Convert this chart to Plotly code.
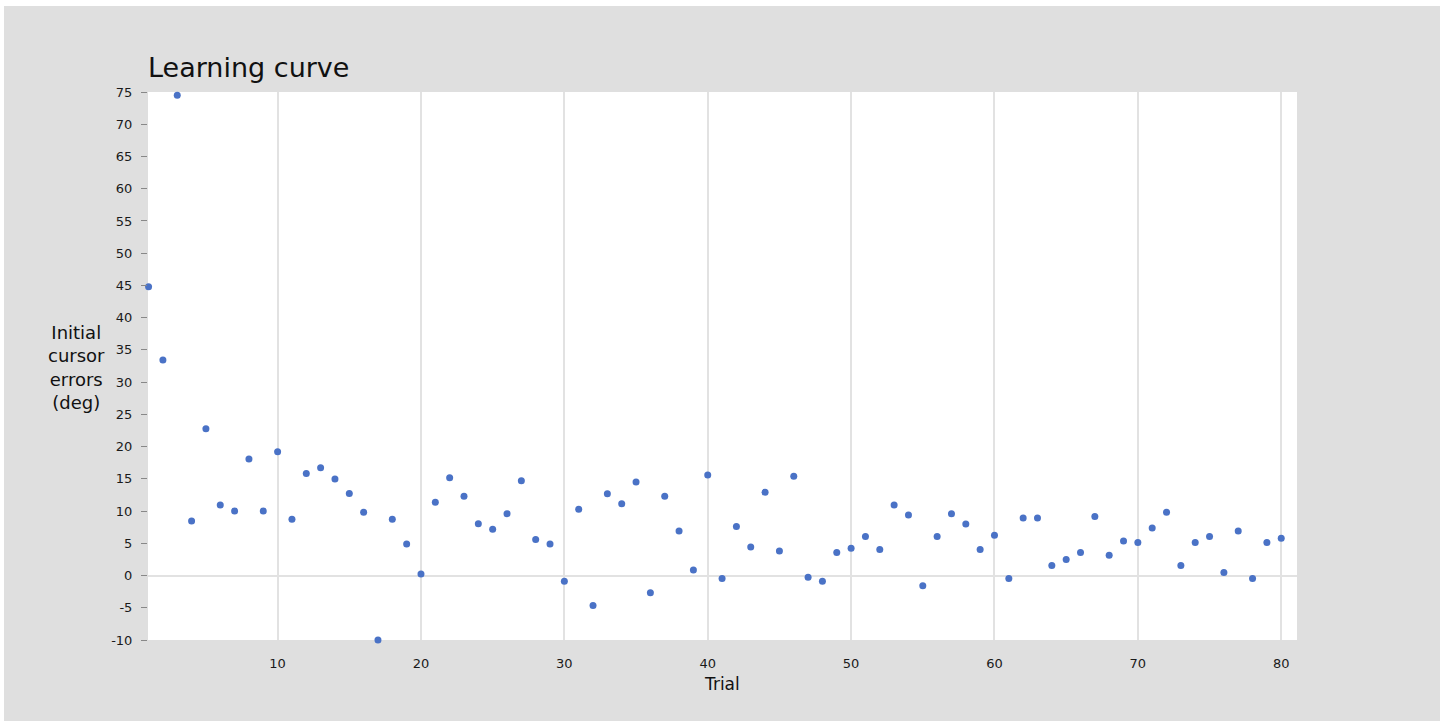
import plotly.graph_objects as go

trials = list(range(1, 81))
errors = [
    44.8, 33.45, 74.5, 8.46, 22.76, 10.94, 10.0, 18.06, 10.0, 19.2,
    8.72, 15.84, 16.72, 14.96, 12.74, 9.8, -10.0, 8.72, 4.9, 0.25,
    11.35, 15.18, 12.28, 8.05, 7.17, 9.6, 14.71, 5.57, 4.9, -0.88,
    10.27, -4.65, 12.7, 11.15, 14.5, -2.69, 12.28, 6.91, 0.87, 15.58,
    -0.46, 7.59, 4.43, 12.9, 3.81, 15.38, -0.26, -0.88, 3.56, 4.23,
    6.04, 4.03, 10.94, 9.39, -1.6, 6.04, 9.6, 7.99, 4.03, 6.24,
    -0.46, 8.92, 8.92, 1.55, 2.48, 3.56, 9.14, 3.14, 5.36, 5.11,
    7.37, 9.8, 1.55, 5.11, 6.04, 0.46, 6.91, -0.46, 5.11, 5.78,
]
y_tickvals = list(range(-10, 80, 5))
y_ticktext = [str(v) for v in y_tickvals]
x_tickvals = [10, 20, 30, 40, 50, 60, 70, 80]
x_ticktext = [str(v) for v in x_tickvals]

W, H = 1445, 721
L, R, T, B = 148, 1297, 92, 640
pw, ph = R - L, B - T

def px(x):
    return (x - L) / pw

def py(y):
    return (B - y) / ph

FONT = "DejaVu Sans"
GRAY = "#dfdfdf"

fig = go.Figure()
fig.add_trace(go.Scatter(
    x=trials, y=errors, mode="markers",
    marker=dict(size=7, color="#4a72c6", line=dict(width=0)),
    showlegend=False, cliponaxis=False,
))

fig.update_layout(
    width=W, height=H,
    paper_bgcolor=GRAY, plot_bgcolor="white",
    margin=dict(l=L, r=W - R, t=T, b=H - B, pad=0),
    font=dict(family=FONT, color="#222222"),
    title=dict(text="Learning curve", x=L / W, xanchor="left", xref="container",
               y=1 - 68 / H, yanchor="middle", yref="container",
               font=dict(size=27, family=FONT, color="#111111")),
    xaxis=dict(range=[0.96, 81.1], tickvals=x_tickvals, ticktext=x_ticktext,
               showgrid=True, gridcolor="#e2e2e2", gridwidth=1.5,
               zeroline=False, showline=False, ticks="",
               tickfont=dict(size=13, family=FONT, color="#1a1a1a"),
               ticklabelstandoff=14),
    yaxis=dict(range=[-10, 75], tickvals=y_tickvals, ticktext=y_ticktext,
               showgrid=False, zeroline=True, zerolinecolor="#e2e2e2",
               zerolinewidth=1.5, showline=False,
               ticks="outside", ticklen=6, tickcolor="#888888", tickwidth=1,
               tickfont=dict(size=13, family=FONT, color="#1a1a1a"),
               ticklabelstandoff=6),
    shapes=[
        dict(type="rect", xref="paper", yref="paper", x0=px(0), x1=px(W),
             y0=py(6), y1=py(0), fillcolor="white", line=dict(width=0), layer="above"),
        dict(type="rect", xref="paper", yref="paper", x0=px(0), x1=px(4),
             y0=py(H), y1=py(0), fillcolor="white", line=dict(width=0), layer="above"),
        dict(type="rect", xref="paper", yref="paper", x0=px(1440), x1=px(W),
             y0=py(H), y1=py(0), fillcolor="white", line=dict(width=0), layer="above"),
    ],
    annotations=[
        dict(text="Initial<br>cursor<br>errors<br>(deg)", xref="paper", yref="paper",
             x=px(76), y=py(368), xanchor="center", yanchor="middle",
             showarrow=False, align="center",
             font=dict(size=18, family=FONT, color="#111111")),
        dict(text="Trial", xref="paper", yref="paper",
             x=px(722), y=py(684), xanchor="center", yanchor="middle",
             showarrow=False, font=dict(size=17, family=FONT, color="#111111")),
    ],
)

fig.write_html(
    "out.html",
    config={"displayModeBar": False},
    post_script="document.body.style.margin='0px';document.body.style.overflow='hidden';",
)
